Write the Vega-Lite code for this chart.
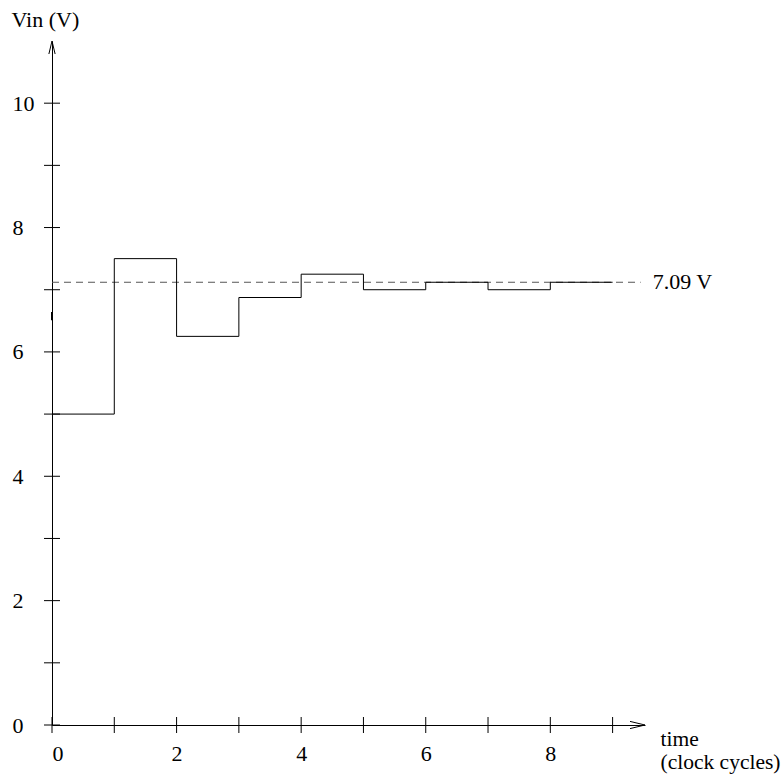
{
  "$schema": "https://vega.github.io/schema/vega-lite/v6.json",
  "width": 593,
  "height": 684,
  "autosize": "none",
  "padding": {"left": 52, "top": 41, "right": 137, "bottom": 54},
  "background": "white",
  "config": {"view": {"stroke": null}, "font": "Liberation Serif"},
  "encoding": {
    "x": {
      "field": "t",
      "type": "quantitative",
      "scale": {"domain": [0, 9.52], "nice": false, "zero": false},
      "axis": {
        "values": [0, 2, 4, 6, 8],
        "grid": false,
        "domain": true,
        "domainColor": "black",
        "domainWidth": 1,
        "ticks": false,
        "tickSize": 0,
        "labelPadding": 35,
        "labelBaseline": "alphabetic",
        "labelFont": "Liberation Serif",
        "labelFontSize": 22,
        "labelColor": "black",
        "title": ["\u00a0\u00a0time", "(clock cycles)"],
        "titleFont": "Liberation Serif",
        "titleFontSize": 21.5,
        "titleFontWeight": "normal",
        "titleColor": "black",
        "titleAlign": "left",
        "titleBaseline": "alphabetic",
        "titleLineHeight": 23,
        "titleX": 608,
        "titleY": 20
      }
    },
    "y": {
      "field": "v",
      "type": "quantitative",
      "scale": {"domain": [0, 11], "nice": false, "zero": false},
      "axis": {
        "values": [0, 2, 4, 6, 8, 10],
        "grid": false,
        "domain": true,
        "domainColor": "black",
        "domainWidth": 1,
        "ticks": false,
        "tickSize": 0,
        "labelPadding": 40,
        "labelAlign": "left",
        "labelBaseline": "middle",
        "labelFont": "Liberation Serif",
        "labelFontSize": 22,
        "labelColor": "black",
        "title": "Vin (V)",
        "titleFont": "Liberation Serif",
        "titleFontSize": 22,
        "titleFontWeight": "normal",
        "titleColor": "black",
        "titleAngle": 0,
        "titleAlign": "left",
        "titleBaseline": "alphabetic",
        "titleX": -41,
        "titleY": -15
      }
    }
  },
  "layer": [
    {
      "data": {"values": [{"t": 0, "v": 0}, {"t": 0, "v": 1}, {"t": 0, "v": 2}, {"t": 0, "v": 3}, {"t": 0, "v": 4}, {"t": 0, "v": 5}, {"t": 0, "v": 6}, {"t": 0, "v": 7}, {"t": 0, "v": 8}, {"t": 0, "v": 9}, {"t": 0, "v": 10}]},
      "mark": {"type": "point", "shape": "M -1 0 L 1 0", "size": 256, "filled": false, "stroke": "black", "strokeWidth": 1, "opacity": 1}
    },
    {
      "data": {"values": [{"t": 0, "v": 0}, {"t": 1, "v": 0}, {"t": 2, "v": 0}, {"t": 3, "v": 0}, {"t": 4, "v": 0}, {"t": 5, "v": 0}, {"t": 6, "v": 0}, {"t": 7, "v": 0}, {"t": 8, "v": 0}, {"t": 9, "v": 0}]},
      "mark": {"type": "point", "shape": "M 0 -1 L 0 1", "size": 256, "filled": false, "stroke": "black", "strokeWidth": 1, "opacity": 1}
    },
    {
      "data": {"values": [{"t": 0, "t2": 9.45, "v": 7.12}]},
      "mark": {"type": "rule", "color": "#555555", "strokeWidth": 1, "strokeDash": [7, 5]},
      "encoding": {"x2": {"field": "t2"}}
    },
    {
      "data": {"values": [
        {"t": 0, "v": 5},
        {"t": 1, "v": 7.5},
        {"t": 2, "v": 6.25},
        {"t": 3, "v": 6.875},
        {"t": 4, "v": 7.25},
        {"t": 5, "v": 7.0},
        {"t": 6, "v": 7.12},
        {"t": 7, "v": 7.0},
        {"t": 8, "v": 7.12},
        {"t": 9, "v": 7.12}
      ]},
      "mark": {"type": "line", "interpolate": "step-after", "color": "black", "strokeWidth": 1}
    },
    {
      "data": {"values": [{"t": 9.45, "v": 7.12, "label": "7.09 V"}]},
      "mark": {"type": "text", "align": "left", "baseline": "middle", "dx": 12, "font": "Liberation Serif", "fontSize": 22, "color": "black"},
      "encoding": {"text": {"field": "label"}}
    },
    {
      "data": {"values": [{"t": 9.52, "v": 0}]},
      "mark": {"type": "point", "shape": "M -1 -0.24 L 0 0 L -1 0.24", "size": 900, "filled": false, "stroke": "black", "strokeWidth": 1, "opacity": 1}
    },
    {
      "data": {"values": [{"t": 0, "v": 11}]},
      "mark": {"type": "point", "shape": "M -0.24 1 L 0 0 L 0.24 1", "size": 676, "filled": false, "stroke": "black", "strokeWidth": 1, "opacity": 1}
    },
    {
      "data": {"values": [{"t": 0, "v": 6.64, "v2": 6.51}]},
      "mark": {"type": "rule", "color": "black", "strokeWidth": 2},
      "encoding": {"y2": {"field": "v2"}}
    }
  ]
}
